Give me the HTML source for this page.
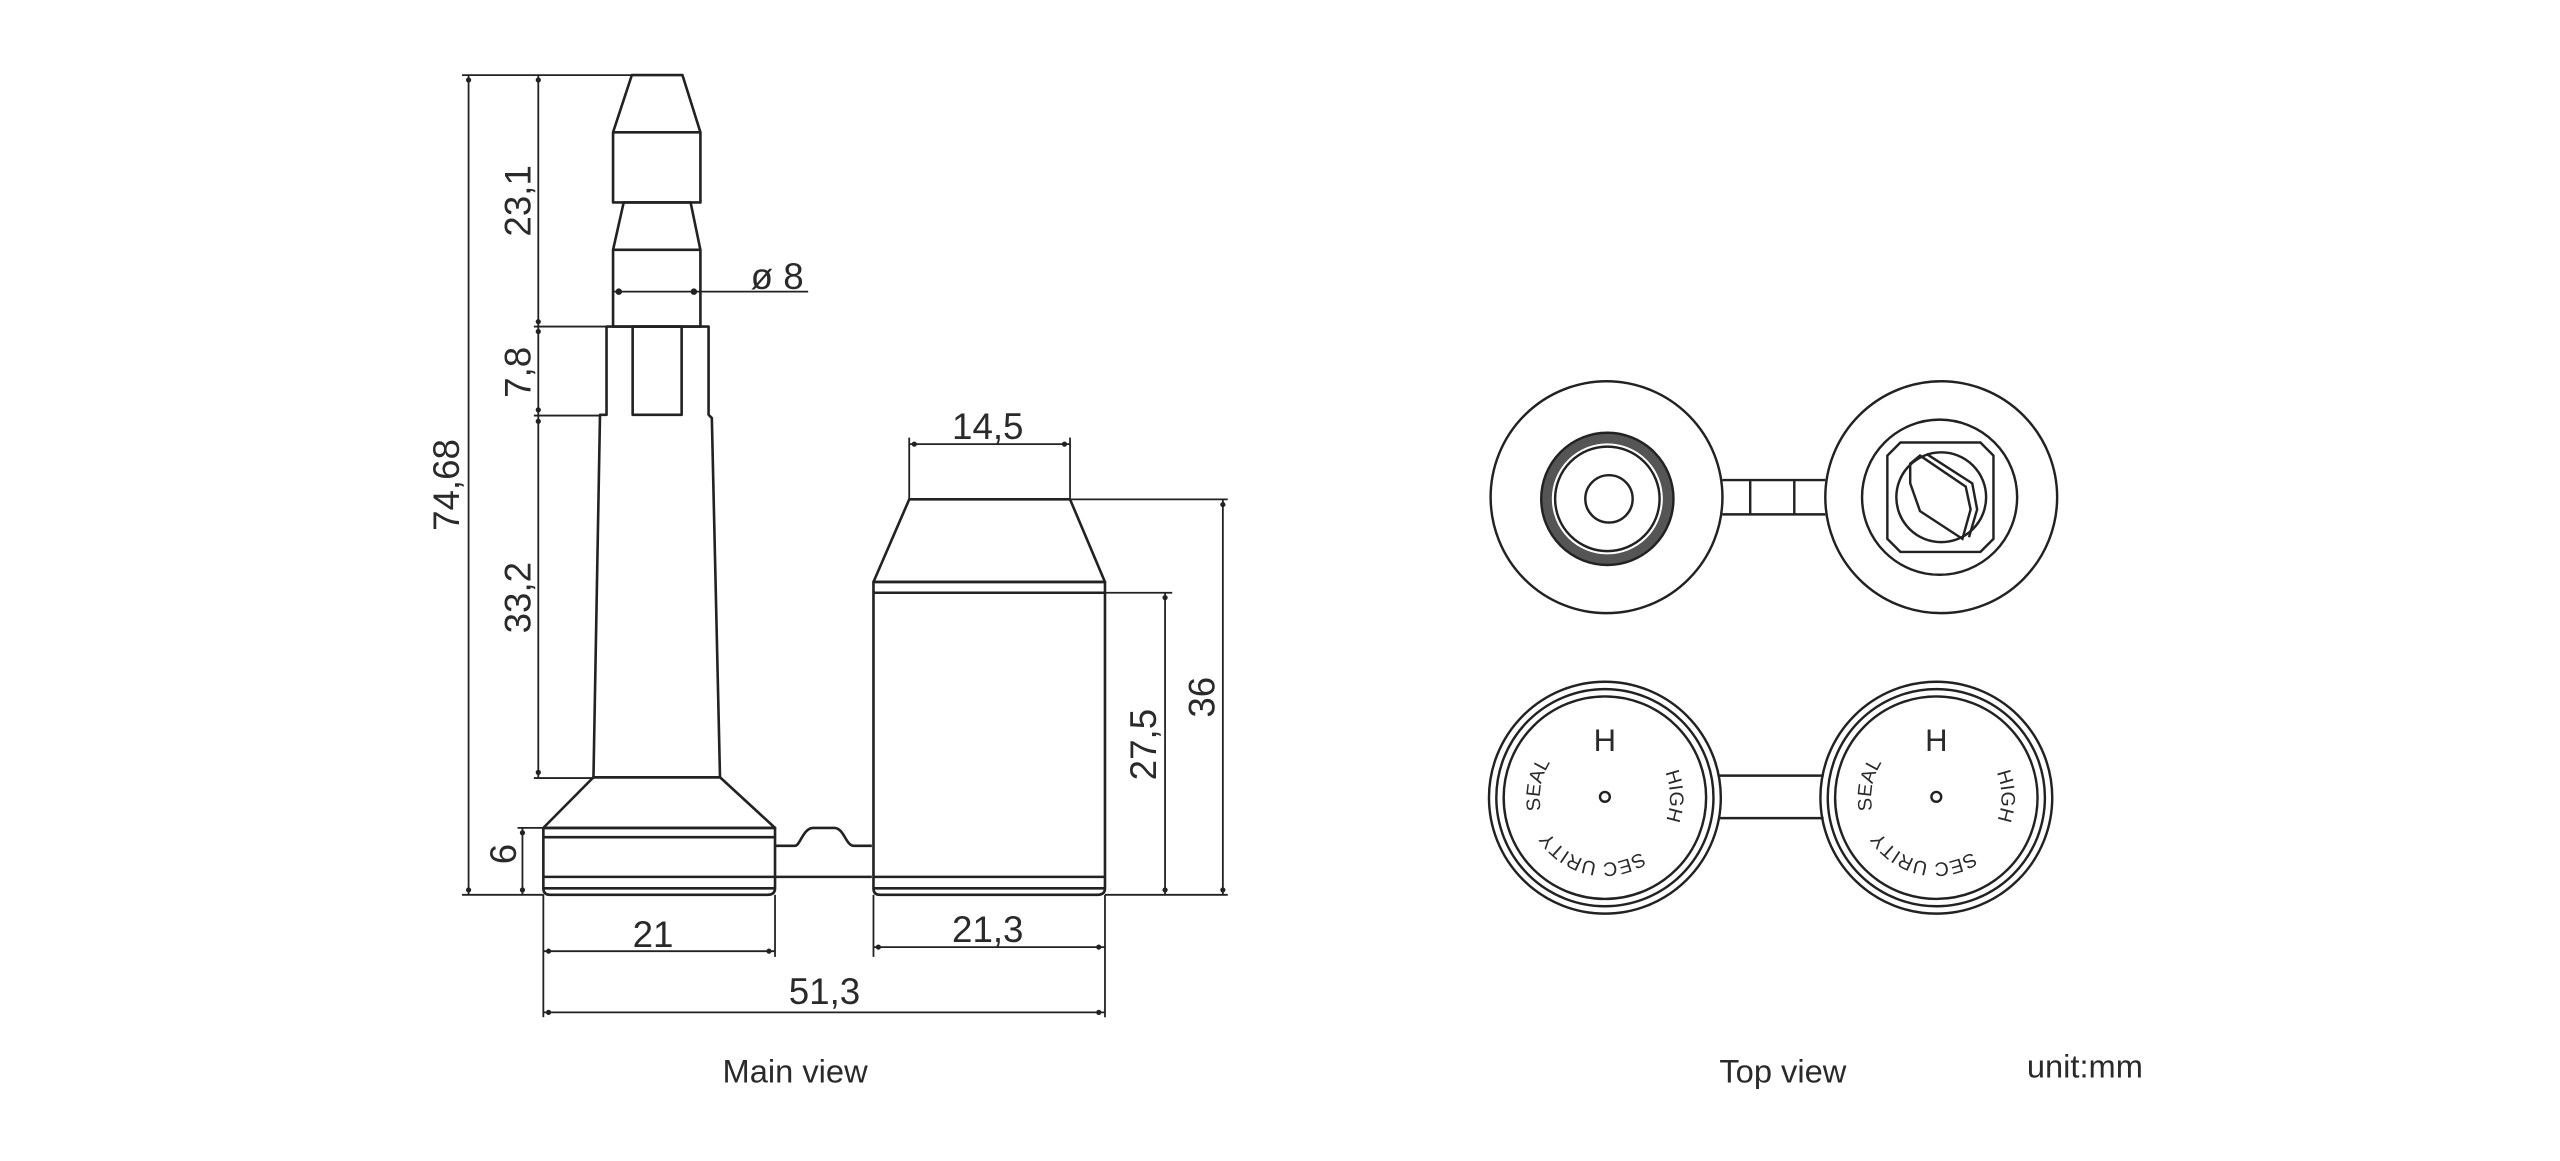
<!DOCTYPE html>
<html><head><meta charset="utf-8"><style>
html,body{margin:0;padding:0;background:#fff;}
svg{display:block;}
text{font-family:"Liberation Sans","DejaVu Sans",sans-serif;fill:#2a2a2a;}
</style></head><body>
<svg width="2560" height="1161" viewBox="0 0 1568 711" preserveAspectRatio="none" xmlns="http://www.w3.org/2000/svg">
<rect width="1568" height="711" fill="#fff"/>
<g stroke="#222" stroke-width="1.6" fill="none" stroke-linejoin="round">
<path d="M387,46 L418,46 L429,81 L429,124 L375.5,124 L375.5,81 Z"/>
<line x1="375.5" y1="81" x2="429" y2="81"/>
<path d="M382,124 L423,124 L429,153 L429,200 L375.5,200 L375.5,153 Z"/>
<line x1="375.5" y1="153" x2="429" y2="153"/>
<path d="M371.5,200 L434,200 L434,254 L436,256 L441,476 L363.5,476 L367.5,254 L371.5,254 Z"/>
<rect x="387.5" y="200" width="30" height="54"/>
<path d="M363.5,476 L441,476 L474.7,507 L332.8,507 Z"/>
<path d="M332.8,507 L474.7,507 L474.7,544 Q474.7,548 470,548 L337,548 Q332.8,548 332.8,544 Z"/>
<line x1="332.8" y1="512.7" x2="474.7" y2="512.7"/>
<line x1="332.8" y1="537" x2="534" y2="537"/>
<line x1="332.8" y1="544" x2="474.7" y2="544"/>
<path d="M474.7,518 L487,518 C490,518 492,507 498,507 L511,507 C517,507 518,518 523,518 L534,518"/>
<path d="M556.9,305.8 L655.4,305.8 L676.8,356.4 L535,356.4 Z"/>
<path d="M535,356.4 L676.8,356.4 L676.8,544 Q676.8,548 672,548 L539,548 Q535,548 535,544 Z"/>
<line x1="535" y1="363" x2="676.8" y2="363"/>
<line x1="535" y1="537" x2="676.8" y2="537"/>
<line x1="535" y1="544" x2="676.8" y2="544"/>
</g>
<g stroke="#222" stroke-width="1.1" fill="none">
<line x1="283" y1="46" x2="418" y2="46"/>
<line x1="283" y1="548" x2="333" y2="548"/>
<line x1="287" y1="46" x2="287" y2="548"/>
<line x1="329.7" y1="46" x2="329.7" y2="476"/>
<line x1="327" y1="200" x2="372" y2="200"/>
<line x1="327" y1="254.5" x2="368" y2="254.5"/>
<line x1="327" y1="476.5" x2="364" y2="476.5"/>
<line x1="317" y1="507" x2="333" y2="507"/>
<line x1="320" y1="507" x2="320" y2="548"/>
<line x1="375.5" y1="178.6" x2="495" y2="178.6"/>
<line x1="332.8" y1="548" x2="332.8" y2="623"/>
<line x1="474.7" y1="548" x2="474.7" y2="586"/>
<line x1="535" y1="548" x2="535" y2="586"/>
<line x1="676.8" y1="548" x2="676.8" y2="623"/>
<line x1="332.8" y1="582.5" x2="474.7" y2="582.5"/>
<line x1="535" y1="580" x2="676.8" y2="580"/>
<line x1="332.8" y1="620" x2="676.8" y2="620"/>
<line x1="556.9" y1="268" x2="556.9" y2="306"/>
<line x1="655.4" y1="268" x2="655.4" y2="306"/>
<line x1="556.9" y1="272" x2="655.4" y2="272"/>
<line x1="655.4" y1="305.8" x2="752" y2="305.8"/>
<line x1="749" y1="305.8" x2="749" y2="548"/>
<line x1="676.8" y1="363" x2="718" y2="363"/>
<line x1="713.6" y1="363" x2="713.6" y2="548"/>
<line x1="676.8" y1="548" x2="752" y2="548"/>
</g>
<g fill="#222">
<circle cx="287" cy="49" r="1.6"/><circle cx="287" cy="545" r="1.6"/>
<circle cx="329.7" cy="49" r="1.6"/><circle cx="329.7" cy="197" r="1.6"/><circle cx="329.7" cy="203" r="1.6"/><circle cx="329.7" cy="251" r="1.6"/><circle cx="329.7" cy="258" r="1.6"/><circle cx="329.7" cy="473" r="1.6"/>
<circle cx="320" cy="510" r="1.6"/><circle cx="320" cy="545" r="1.6"/>
<circle cx="379" cy="178.6" r="2"/><circle cx="425" cy="178.6" r="2"/>
<circle cx="336" cy="582.5" r="1.6"/><circle cx="471" cy="582.5" r="1.6"/>
<circle cx="538" cy="580" r="1.6"/><circle cx="673" cy="580" r="1.6"/>
<circle cx="336" cy="620" r="1.6"/><circle cx="673" cy="620" r="1.6"/>
<circle cx="560" cy="272" r="1.6"/><circle cx="652" cy="272" r="1.6"/>
<circle cx="749" cy="309" r="1.6"/><circle cx="749" cy="545" r="1.6"/>
<circle cx="713.6" cy="366" r="1.6"/><circle cx="713.6" cy="545" r="1.6"/>
</g>
<g font-size="22.5">
<text transform="translate(281,297) rotate(-90)" text-anchor="middle">74,68</text>
<text transform="translate(325,123) rotate(-90)" text-anchor="middle">23,1</text>
<text transform="translate(325,228) rotate(-90)" text-anchor="middle">7,8</text>
<text transform="translate(325,366) rotate(-90)" text-anchor="middle">33,2</text>
<text transform="translate(316,523) rotate(-90)" text-anchor="middle">6</text>
<text transform="translate(744,427) rotate(-90)" text-anchor="middle">36</text>
<text transform="translate(708,456) rotate(-90)" text-anchor="middle">27,5</text>
<text x="400" y="580" text-anchor="middle">21</text>
<text x="605" y="577" text-anchor="middle">21,3</text>
<text x="505" y="615" text-anchor="middle">51,3</text>
<text x="605" y="269" text-anchor="middle">14,5</text>
<text x="476" y="177" text-anchor="middle">ø 8</text>
</g>
<g font-size="20">
<text x="487" y="663" text-anchor="middle">Main view</text>
<text x="1092" y="663" text-anchor="middle">Top view</text>
<text x="1277" y="660" text-anchor="middle">unit:mm</text>
</g>
<g stroke="#222" stroke-width="1.5" fill="none">
<circle cx="984" cy="304.5" r="71"/>
<circle cx="984.5" cy="305.5" r="37" stroke="#555" stroke-width="6"/>
<circle cx="984.5" cy="305.5" r="40.5"/>
<circle cx="984.5" cy="305.5" r="32"/>
<circle cx="985.5" cy="305.5" r="14.5"/>
<path d="M1055,294 L1118,294 M1055,315 L1118,315 M1072,294 L1072,315 M1099,294 L1099,315"/>
<circle cx="1189" cy="304.5" r="71"/>
<circle cx="1188" cy="304.5" r="47.5"/>
<path d="M1164,271 L1213,271 L1221,279 L1221,330 L1213,338 L1164,338 L1156,330 L1156,279 Z"/>
<circle cx="1189" cy="304.5" r="27.5"/>
<path d="M1170,284 L1176,279 L1204,298 L1207,312 L1202,330 L1176,313 L1170,296 Z"/>
<path d="M1180,278 L1208,296 L1211,312 L1206,329"/>
</g>
<g stroke="#222" stroke-width="1.5" fill="none">
<circle cx="983" cy="488.5" r="71"/>
<circle cx="983" cy="488.5" r="66.5"/>
<circle cx="983" cy="488.5" r="62"/>
<circle cx="983" cy="488" r="3"/>
<path d="M1053,475 L1117,475 M1053,501 L1117,501"/>
<circle cx="1186" cy="488.5" r="71"/>
<circle cx="1186" cy="488.5" r="66.5"/>
<circle cx="1186" cy="488.5" r="62"/>
<circle cx="1186" cy="488" r="3"/>
</g>
<text x="983" y="460" text-anchor="middle" font-size="19">H</text>
<text x="1186" y="460" text-anchor="middle" font-size="19">H</text>
<defs>
<path id="r1" d="M1017.64,468.5 A40,40 0 0,1 948.36,508.5 A40,40 0 0,1 1017.64,468.5"/>
<path id="r2" d="M1220.64,468.5 A40,40 0 0,1 1151.36,508.5 A40,40 0 0,1 1220.64,468.5"/>
</defs>
<g font-size="12">
<text><textPath href="#r1" startOffset="5">HIGH</textPath></text>
<text><textPath href="#r1" startOffset="60">SEC URITY</textPath></text>
<text><textPath href="#r1" startOffset="138">SEAL</textPath></text>
<text><textPath href="#r2" startOffset="5">HIGH</textPath></text>
<text><textPath href="#r2" startOffset="60">SEC URITY</textPath></text>
<text><textPath href="#r2" startOffset="138">SEAL</textPath></text>
</g>
</svg>
</body></html>
